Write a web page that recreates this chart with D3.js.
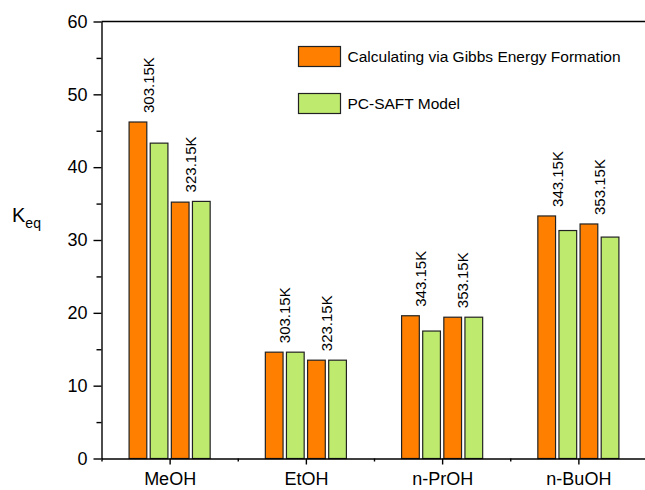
<!DOCTYPE html>
<meta charset="utf-8">
<style>
body { margin: 0; background: #fff; }
text { font-family: "Liberation Sans", Arial, sans-serif; fill: #000; }
</style>
<body>
<script src="https://d3js.org/d3.v7.min.js"></script>
<script>
var categories = ["MeOH", "EtOH", "n-PrOH", "n-BuOH"];
var seriesNames = ["Calculating via Gibbs Energy Formation", "PC-SAFT Model"];
// per category: [temp1, temp2]
var gibbs = [[46.2, 35.2], [14.6, 13.5], [19.6, 19.4], [33.3, 32.2]];
var pcsaft = [[43.3, 35.3], [14.6, 13.5], [17.5, 19.4], [31.3, 30.4]];
var tempLabels = [["303.15K", "323.15K"], ["303.15K", "323.15K"], ["343.15K", "353.15K"], ["343.15K", "353.15K"]];
var yTicks = [0, 10, 20, 30, 40, 50, 60];
var yMinor = [5, 15, 25, 35, 45, 55];
var colors = ["#FF8000", "#BEEB6E"];

var width = 645, height = 490;
var svg = d3.select("body").append("svg")
    .attr("width", width)
    .attr("height", height);

var x = d3.scaleLinear().domain([0.5, 4.5]).range([101.5, 646.5]);
var y = d3.scaleLinear().domain([0, 60]).range([458.5, 21.5]);

var step = 0.155, bw = 0.13;

// bars
var bars = [];
categories.forEach(function(c, i) {
  for (var t = 0; t < 2; t++) {
    bars.push({cat: i + 1, slot: t * 2, s: 0, v: gibbs[i][t]});
    bars.push({cat: i + 1, slot: t * 2 + 1, s: 1, v: pcsaft[i][t]});
  }
});

svg.append("g").selectAll("rect")
  .data(bars)
  .join("rect")
    .attr("x", function(d) { return x(d.cat + (d.slot - 1.5) * step - bw / 2); })
    .attr("width", x(bw) - x(0))
    .attr("y", function(d) { return y(d.v); })
    .attr("height", function(d) { return y(0) - y(d.v); })
    .attr("fill", function(d) { return colors[d.s]; })
    .attr("stroke", "#222")
    .attr("stroke-width", 1.2);

// temperature labels
var labs = [];
categories.forEach(function(c, i) {
  for (var t = 0; t < 2; t++) {
    labs.push({cat: i + 1, t: t, text: tempLabels[i][t], v: Math.max(gibbs[i][t], pcsaft[i][t])});
  }
});
svg.append("g").selectAll("text")
  .data(labs)
  .join("text")
    .attr("transform", function(d) {
      var cx = x(d.cat + (d.t * 2 - 1) * step);
      return "translate(" + cx + "," + (y(d.v) - 9) + ") rotate(-90)";
    })
    .attr("dy", "0.35em")
    .style("font-size", "15px")
    .text(function(d) { return d.text; });

// axes
svg.append("g")
    .attr("transform", "translate(" + x(0.5) + ",0)")
    .call(d3.axisLeft(y).tickValues(yTicks).tickSize(8).tickPadding(6).tickSizeOuter(0));
svg.append("g")
    .attr("transform", "translate(" + x(0.5) + ",0)")
    .call(d3.axisLeft(y).tickValues(yMinor).tickSize(5).tickFormat(""))
    .call(function(g) { g.select(".domain").remove(); });

svg.append("g")
    .attr("transform", "translate(0," + y(0) + ")")
    .call(d3.axisBottom(x).tickValues([1, 2, 3, 4])
      .tickFormat(function(d) { return categories[d - 1]; })
      .tickSize(6).tickPadding(8).tickSizeOuter(0));
svg.append("g")
    .attr("transform", "translate(0," + y(0) + ")")
    .call(d3.axisBottom(x).tickValues([0.5, 1.5, 2.5, 3.5]).tickSize(3).tickFormat(""))
    .call(function(g) { g.select(".domain").remove(); });

svg.selectAll(".tick text").style("font-size", "18px").style("font-family", "Liberation Sans, Arial, sans-serif");
svg.selectAll(".domain, .tick line").attr("stroke", "#000").attr("stroke-width", 1.4);

// top frame line
svg.append("line")
    .attr("x1", x(0.5)).attr("x2", width)
    .attr("y1", y(60)).attr("y2", y(60))
    .attr("stroke", "#000").attr("stroke-width", 1.4);

// y label
var yl = svg.append("text").attr("x", 12).attr("y", 222).style("font-size", "20px");
yl.append("tspan").text("K");
yl.append("tspan").attr("dy", 6).style("font-size", "14px").text("eq");

// legend
var legend = svg.append("g").selectAll("g")
  .data(seriesNames)
  .join("g")
    .attr("transform", function(d, i) { return "translate(298.5," + (46.5 + i * 47) + ")"; });
legend.append("rect")
    .attr("width", 42).attr("height", 20)
    .attr("fill", function(d, i) { return colors[i]; })
    .attr("stroke", "#222").attr("stroke-width", 1.2);
legend.append("text")
    .attr("x", 49).attr("y", 10).attr("dy", "0.35em")
    .style("font-size", "15.5px")
    .text(function(d) { return d; });
</script>
</body>
